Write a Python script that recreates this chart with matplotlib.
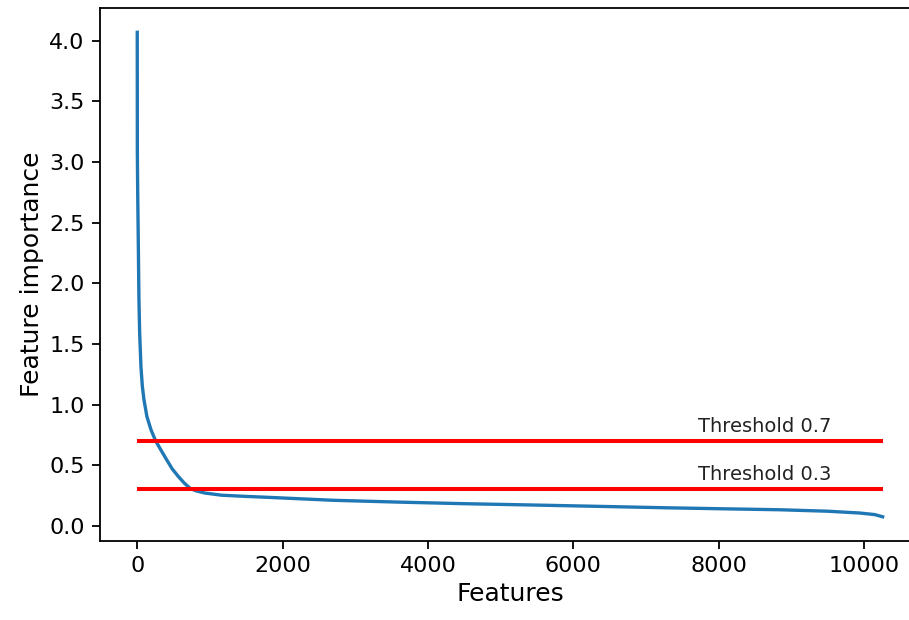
import matplotlib
matplotlib.use("Agg")
import matplotlib.pyplot as plt

# Sorted feature importances (feature index, importance)
feature_idx = [0, 1, 3, 6, 10, 15, 23, 33, 51, 70, 92, 133, 190, 253, 330,
               404, 480, 564, 650, 725, 800, 862, 931, 1160, 1500, 1780, 2700,
               3600, 4500, 5450, 6350, 7300, 8050, 8840, 9500, 9944, 10150,
               10257]
importance = [4.07, 3.10, 2.95, 2.75, 2.55, 2.30, 1.87, 1.59, 1.31, 1.15, 1.04,
              0.90, 0.79, 0.70, 0.62, 0.545, 0.47, 0.407, 0.35, 0.31, 0.29,
              0.28, 0.27, 0.252, 0.242, 0.235, 0.21, 0.195, 0.182, 0.171, 0.16,
              0.148, 0.14, 0.132, 0.12, 0.105, 0.092, 0.074]
n_features = 10257
thresholds = [0.7, 0.3]
threshold_labels = ["Threshold 0.7", "Threshold 0.3"]

plt.rcParams.update({
    "font.family": "DejaVu Sans",
    "xtick.major.size": 6,
    "ytick.major.size": 6,
    "xtick.major.width": 1.3,
    "ytick.major.width": 1.3,
    "xtick.major.pad": 5,
    "ytick.major.pad": 5,
    "axes.linewidth": 1.3,
})

fig = plt.figure(figsize=(9.09, 6.2), dpi=100)
ax = fig.add_axes([0.110, 0.1274, 0.902, 0.8596])

ax.plot(feature_idx, importance, color="#1f77b4", lw=2.4)
for thr, lab in zip(thresholds, threshold_labels):
    ax.hlines(thr, 0, n_features, colors="red", lw=2.9)
    ax.text(7710, thr + 0.075, lab, fontsize=14, color="#222222", va="baseline")

ax.set_xlabel("Features", fontsize=18)
ax.set_ylabel("Feature importance", fontsize=18)
ax.tick_params(labelsize=16)
ax.set_yticks([0.0, 0.5, 1.0, 1.5, 2.0, 2.5, 3.0, 3.5, 4.0])
ax.set_xticks([0, 2000, 4000, 6000, 8000, 10000])

fig.savefig("out.png", dpi=100)
